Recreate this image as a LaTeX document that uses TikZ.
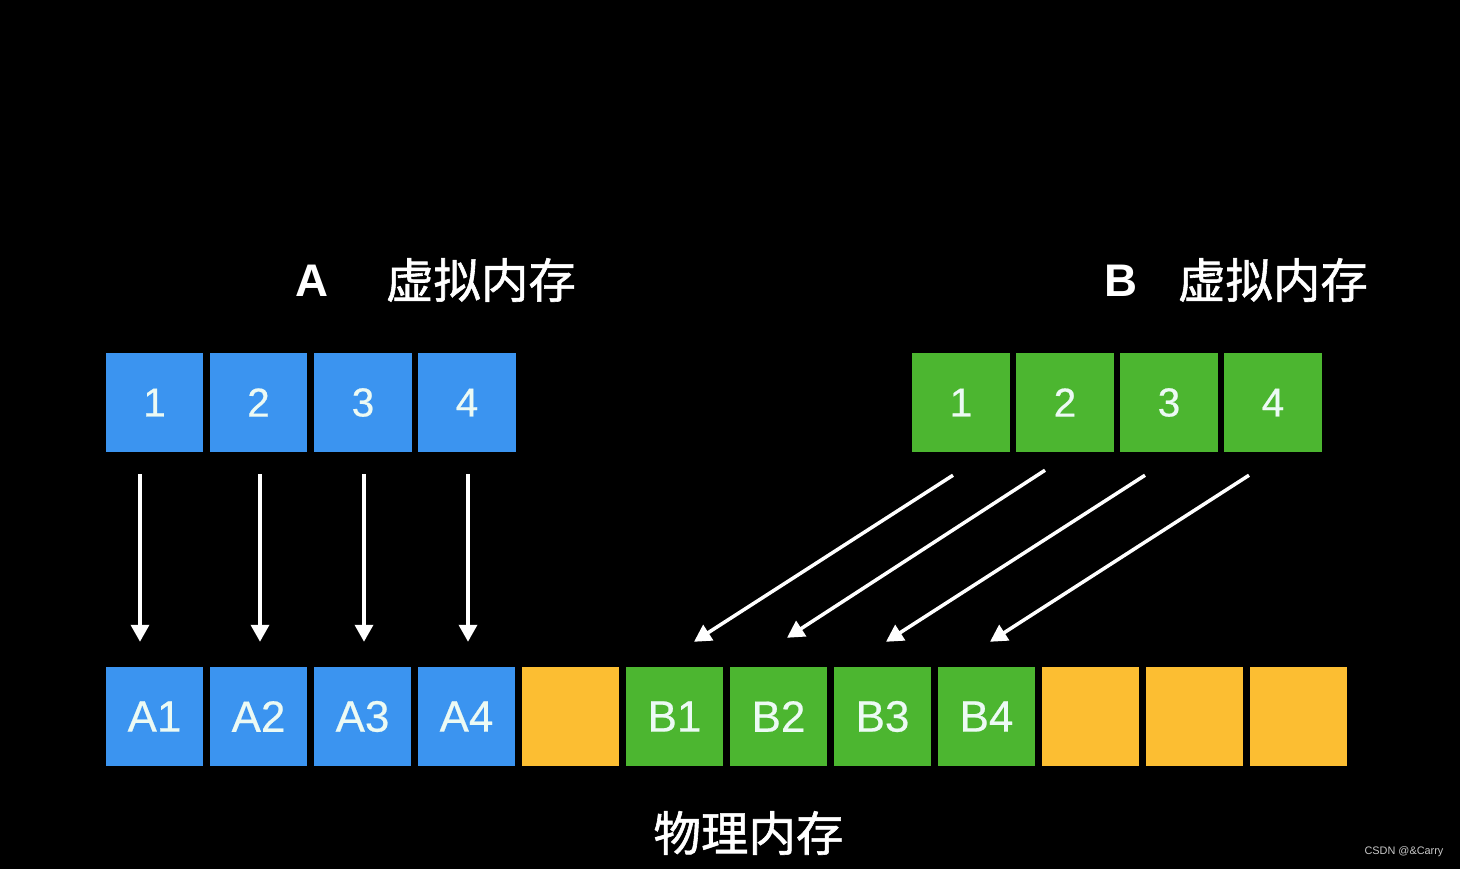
\documentclass[tikz,border=0pt]{standalone}
\usepackage{fontspec}
\setmainfont{Liberation Sans}
\newfontfamily\cjk{Noto Sans CJK SC}[FakeBold=1.2]
\newfontfamily\cellfont{Liberation Sans}[FakeBold=0.5]
\usetikzlibrary{arrows.meta,calc}
\definecolor{pblue}{RGB}{59,148,240}
\definecolor{pgreen}{RGB}{76,182,48}
\definecolor{pyellow}{RGB}{252,190,50}
\definecolor{ptext}{RGB}{236,250,244}
\definecolor{wm}{RGB}{200,200,200}
\tikzset{
  cell/.style={minimum width=0.97cm, minimum height=0.98cm, inner sep=0pt, draw=none, text=ptext},
  topcell/.style={cell, font=\cellfont\fontsize{11.5}{13}\selectfont},
  botcell/.style={cell, font=\cellfont\fontsize{12.5}{14}\selectfont},
  bluecell/.style={fill=pblue},
  greencell/.style={fill=pgreen},
  yellowcell/.style={fill=pyellow},
  arr/.style={draw=white, line width=1pt, -{Triangle[width=0.18cm,length=0.17cm]}},
  title/.style={text=white, inner sep=0pt},
}
\begin{document}
\begin{tikzpicture}[x=0.01cm,y=-0.01cm]
\fill[black] (0,0) rectangle (1460,869);
\useasboundingbox (0,0) rectangle (1460,869);
% titles
\node[title, font=\bfseries\fontsize{13}{15}\selectfont] (tA) at (312,281) {A};
\node[title, font=\cjk\fontsize{13.5}{16}\selectfont] (tAv) at (481,280) {虚拟内存};
\node[title, font=\bfseries\fontsize{13}{15}\selectfont] (tB) at (1121,281) {B};
\node[title, font=\cjk\fontsize{13.5}{16}\selectfont] (tBv) at (1273,280) {虚拟内存};
\node[title, font=\cjk\fontsize{13.5}{16}\selectfont] (tP) at (748.5,833) {物理内存};
% top A
\node[topcell,bluecell] (ta1) at (154.5,402.5) {1};
\node[topcell,bluecell] (ta2) at (258.5,402.5) {2};
\node[topcell,bluecell] (ta3) at (363,402.5) {3};
\node[topcell,bluecell] (ta4) at (467,402.5) {4};
% top B
\node[topcell,greencell] (tb1) at (961,402.5) {1};
\node[topcell,greencell] (tb2) at (1065,402.5) {2};
\node[topcell,greencell] (tb3) at (1169,402.5) {3};
\node[topcell,greencell] (tb4) at (1273,402.5) {4};
% physical
\node[botcell,bluecell] (pa1) at (154.5,716.5) {A1};
\node[botcell,bluecell] (pa2) at (258.5,716.5) {A2};
\node[botcell,bluecell] (pa3) at (362.5,716.5) {A3};
\node[botcell,bluecell] (pa4) at (466.5,716.5) {A4};
\node[botcell,yellowcell] (py1) at (570.5,716.5) {};
\node[botcell,greencell] (pb1) at (674.5,716.5) {B1};
\node[botcell,greencell] (pb2) at (778.5,716.5) {B2};
\node[botcell,greencell] (pb3) at (882.5,716.5) {B3};
\node[botcell,greencell] (pb4) at (986.5,716.5) {B4};
\node[botcell,yellowcell] (py2) at (1090.5,716.5) {};
\node[botcell,yellowcell] (py3) at (1194.5,716.5) {};
\node[botcell,yellowcell] (py4) at (1298.5,716.5) {};
% A arrows
\draw[arr] ($(ta1.south)+(-14.5,22)$) -- ($(pa1.north)+(-14.5,-25)$);
\draw[arr] ($(ta2.south)+(1.5,22)$) -- ($(pa2.north)+(1.5,-25)$);
\draw[arr] ($(ta3.south)+(1,22)$) -- ($(pa3.north)+(1.5,-25)$);
\draw[arr] ($(ta4.south)+(1,22)$) -- ($(pa4.north)+(1.5,-25)$);
% B arrows
\draw[arr] ($(tb1.south)+(-8,23)$) -- ($(pb1.north)+(19.5,-25)$);
\draw[arr] ($(tb2.south)+(-20,18)$) -- ($(pb2.north)+(8.5,-29)$);
\draw[arr] ($(tb3.south)+(-24,23)$) -- ($(pb3.north)+(3.5,-25)$);
\draw[arr] ($(tb4.south)+(-24,23)$) -- ($(pb4.north)+(3.5,-25)$);
% watermark
\node[text=wm, inner sep=0pt, font=\fontsize{3.1}{4}\selectfont] (wmk) at (1404,852) {CSDN @\&Carry};
\end{tikzpicture}
\end{document}
